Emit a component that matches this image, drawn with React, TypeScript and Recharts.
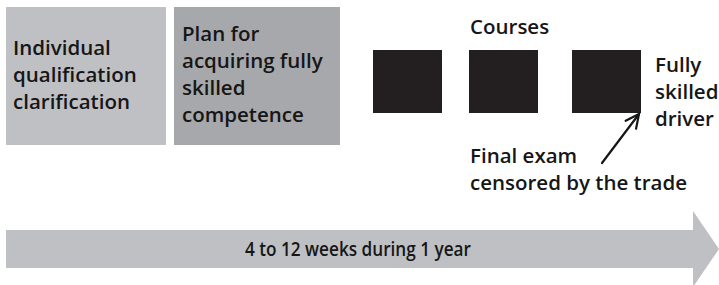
import {
  ComposedChart,
  ReferenceArea,
  ReferenceLine,
  Scatter,
  XAxis,
  YAxis,
} from 'recharts';

// diagram units: x 0..719 left to right, y 0..285 top to bottom
const stageNames = ['clarification', 'plan'];
const stageFrom = [6, 174];
const stageTo = [166, 340];
const stageTop = 7;
const stageBottom = 145;

const courseFrom = [373, 469, 572];
const courseTo = [442, 538, 641];
const courseTop = 50;
const courseBottom = 113;

const timelineFrom = 6;
const timelineHeadAt = 693;
const timelineTip = 719;
const timelineBody = [230, 268];
const timelineHead = [211, 287];

const examPointer = [
  { x: 602, y: 163 },
  { x: 639, y: 114 },
];

// text blocks: anchor x, baseline y of first line, lines
const labelX = [13, 182, 470, 655, 470, 358];
const labelY = [55, 41, 34, 72, 163, 256];
const labelLines = [
  ['Individual', 'qualification', 'clarification'],
  ['Plan for', 'acquiring fully', 'skilled', 'competence'],
  ['Courses'],
  ['Fully', 'skilled', 'driver'],
  ['Final exam', 'censored by the trade'],
  ['4 to 12 weeks during 1 year'],
];

const FONT = "'Open Sans', 'DejaVu Sans', sans-serif";
const INK = '#161616';

const labels = labelLines.map((lines, i) => ({
  x: labelX[i],
  y: labelY[i],
  lines,
  centered: i === labelLines.length - 1,
}));

const stageFill = ['#bfc0c4', '#a7a8ab'];

function LabelShape(props: any) {
  const { cx, cy, payload } = props;
  if (cx == null || cy == null) return null;
  const centered = payload.centered;
  return (
    <text
      x={cx}
      y={cy}
      fill={INK}
      fontFamily={FONT}
      fontWeight={600}
      fontSize={centered ? 20 : 20.5}
      textAnchor={centered ? 'middle' : 'start'}
      {...(centered ? { textLength: 226, lengthAdjust: 'spacingAndGlyphs' } : {})}
    >
      {payload.lines.map((line: string, j: number) => (
        <tspan key={j} x={cx} dy={j === 0 ? 0 : 27}>
          {line}
        </tspan>
      ))}
    </text>
  );
}

function HeadShape(props: any) {
  const { x, y, width, height } = props;
  return (
    <polygon
      points={`${x},${y} ${x + width},${y + height / 2} ${x},${y + height}`}
      fill="#bfc0c4"
    />
  );
}

function PointerShape(props: any) {
  const { x1, y1, x2, y2 } = props;
  if (x1 == null) return null;
  const ang = Math.atan2(y2 - y1, x2 - x1);
  const len = 15;
  const spread = 0.45;
  const ax = x2 - len * Math.cos(ang - spread);
  const ay = y2 - len * Math.sin(ang - spread);
  const bx = x2 - len * Math.cos(ang + spread);
  const by = y2 - len * Math.sin(ang + spread);
  return (
    <g stroke={INK} strokeWidth={2.2} fill="none" strokeLinecap="round">
      <line x1={x1} y1={y1} x2={x2} y2={y2} />
      <polyline points={`${ax},${ay} ${x2},${y2} ${bx},${by}`} />
    </g>
  );
}

export default function App() {
  return (
    <div style={{ position: 'absolute', top: 0, left: 0, width: 719, height: 285 }}>
      <ComposedChart
        width={719}
        height={285}
        data={labels}
        margin={{ top: 0, right: 0, bottom: 0, left: 0 }}
      >
        <XAxis type="number" dataKey="x" domain={[0, 719]} hide allowDataOverflow />
        <YAxis type="number" dataKey="y" domain={[0, 285]} reversed hide allowDataOverflow />

        {stageNames.map((name, i) => (
          <ReferenceArea
            key={name}
            x1={stageFrom[i]}
            x2={stageTo[i]}
            y1={stageTop}
            y2={stageBottom}
            fill={stageFill[i]}
            fillOpacity={1}
            stroke="none"
          />
        ))}

        {courseFrom.map((from, i) => (
          <ReferenceArea
            key={`course-${i}`}
            x1={from}
            x2={courseTo[i]}
            y1={courseTop}
            y2={courseBottom}
            fill="#231f20"
            fillOpacity={1}
            stroke="none"
          />
        ))}

        <ReferenceArea
          x1={timelineFrom}
          x2={timelineHeadAt}
          y1={timelineBody[0]}
          y2={timelineBody[1]}
          fill="#bfc0c4"
          fillOpacity={1}
          stroke="none"
        />
        <ReferenceArea
          x1={timelineHeadAt}
          x2={timelineTip}
          y1={timelineHead[0]}
          y2={timelineHead[1]}
          ifOverflow="visible"
          shape={HeadShape}
        />

        <ReferenceLine segment={examPointer} shape={PointerShape} />

        <Scatter dataKey="y" isAnimationActive={false} shape={LabelShape} />
      </ComposedChart>
    </div>
  );
}
